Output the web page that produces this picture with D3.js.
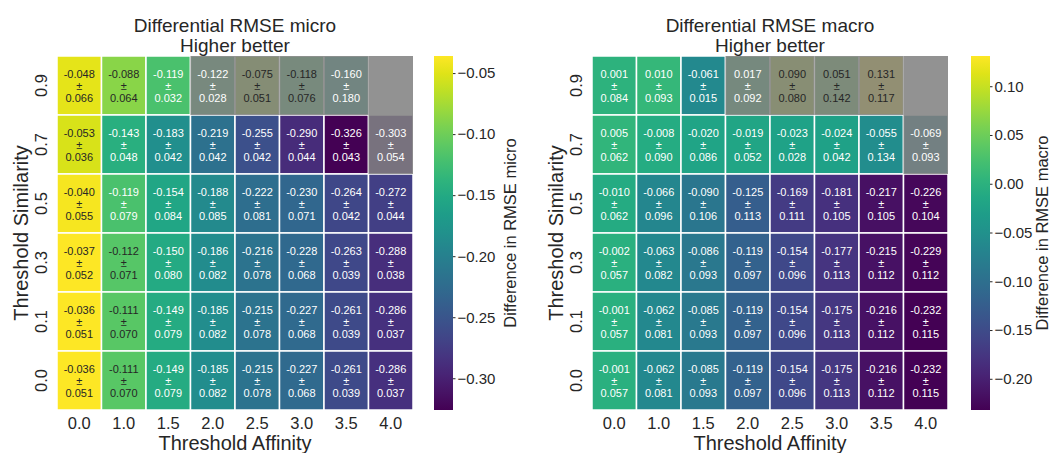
<!DOCTYPE html>
<html>
<head>
<meta charset="utf-8">
<script src="https://cdn.jsdelivr.net/npm/d3@7"></script>
<style>
  body { margin: 0; background: #fff; }
  svg text { font-family: "Liberation Sans", Arial, sans-serif; fill: #262626; }
</style>
</head>
<body>
<div id="vis"></div>
<script>
/*************** DATA ***************/
// rows top to bottom, columns left to right; null = no value
var affinity = ['0.0', '1.0', '1.5', '2.0', '2.5', '3.0', '3.5', '4.0'];
var similarity = ['0.9', '0.7', '0.5', '0.3', '0.1', '0.0'];

var microMean = [
  [-0.048, -0.088, -0.119, -0.122, -0.075, -0.118, -0.160, null],
  [-0.053, -0.143, -0.183, -0.219, -0.255, -0.290, -0.326, -0.303],
  [-0.040, -0.119, -0.154, -0.188, -0.222, -0.230, -0.264, -0.272],
  [-0.037, -0.112, -0.150, -0.186, -0.216, -0.228, -0.263, -0.288],
  [-0.036, -0.111, -0.149, -0.185, -0.215, -0.227, -0.261, -0.286],
  [-0.036, -0.111, -0.149, -0.185, -0.215, -0.227, -0.261, -0.286]
];
var microStd = [
  [0.066, 0.064, 0.032, 0.028, 0.051, 0.076, 0.180, null],
  [0.036, 0.048, 0.042, 0.042, 0.042, 0.044, 0.043, 0.054],
  [0.055, 0.079, 0.084, 0.085, 0.081, 0.071, 0.042, 0.044],
  [0.052, 0.071, 0.080, 0.082, 0.078, 0.068, 0.039, 0.038],
  [0.051, 0.070, 0.079, 0.082, 0.078, 0.068, 0.039, 0.037],
  [0.051, 0.070, 0.079, 0.082, 0.078, 0.068, 0.039, 0.037]
];
var macroMean = [
  [0.001, 0.010, -0.061, 0.017, 0.090, 0.051, 0.131, null],
  [0.005, -0.008, -0.020, -0.019, -0.023, -0.024, -0.055, -0.069],
  [-0.010, -0.066, -0.090, -0.125, -0.169, -0.181, -0.217, -0.226],
  [-0.002, -0.063, -0.086, -0.119, -0.154, -0.177, -0.215, -0.229],
  [-0.001, -0.062, -0.085, -0.119, -0.154, -0.175, -0.216, -0.232],
  [-0.001, -0.062, -0.085, -0.119, -0.154, -0.175, -0.216, -0.232]
];
var macroStd = [
  [0.084, 0.093, 0.015, 0.092, 0.080, 0.142, 0.117, null],
  [0.062, 0.090, 0.086, 0.052, 0.028, 0.042, 0.134, 0.093],
  [0.062, 0.096, 0.106, 0.113, 0.111, 0.105, 0.105, 0.104],
  [0.057, 0.082, 0.093, 0.097, 0.096, 0.113, 0.112, 0.112],
  [0.057, 0.081, 0.093, 0.097, 0.096, 0.113, 0.112, 0.115],
  [0.057, 0.081, 0.093, 0.097, 0.096, 0.113, 0.112, 0.115]
];
// greyed out cells [row, col]
var greyCells = [[0, 3], [0, 4], [0, 5], [0, 6], [0, 7], [1, 7]];

var microTicks = [-0.05, -0.10, -0.15, -0.20, -0.25, -0.30];
var macroTicks = [0.10, 0.05, 0.00, -0.05, -0.10, -0.15, -0.20];

/*************** DRAW ***************/
const width = 1052;
const height = 453;

var svg = d3.select('#vis').append('svg')
  .attr('width', width)
  .attr('height', height);

var defs = svg.append('defs');

// seaborn picks annotation colour from the luminance of the cell colour
function luminance(col) {
  var c = d3.rgb(col);
  var lin = [c.r, c.g, c.b].map(v => {
    v = v / 255;
    return v <= 0.03928 ? v / 12.92 : Math.pow((v + 0.055) / 1.055, 2.4);
  });
  return 0.2126 * lin[0] + 0.7152 * lin[1] + 0.0722 * lin[2];
}

function fmt(v) {
  return v.toFixed(3);
}

function heatmap(opts) {
  const left = opts.left, top = 56, w = 356, h = 354;

  var x = d3.scaleBand().domain(affinity).range([left, left + w]);
  var y = d3.scaleBand().domain(similarity).range([top, top + h]);

  var flat = opts.mean.flat().filter(v => v !== null);
  var vmin = d3.min(flat), vmax = d3.max(flat);
  var colour = d3.scaleSequential(d3.interpolateViridis).domain([vmin, vmax]);

  var cells = [];
  opts.mean.forEach((row, i) => row.forEach((v, j) => {
    cells.push({ row: similarity[i], col: affinity[j], mean: v, std: opts.std[i][j] });
  }));

  var g = svg.append('g');

  // cells with white grid lines
  g.selectAll('rect.cell')
    .data(cells.filter(d => d.mean !== null))
    .enter()
    .append('rect')
    .attr('class', 'cell')
    .attr('x', d => x(d.col))
    .attr('y', d => y(d.row))
    .attr('width', x.bandwidth())
    .attr('height', y.bandwidth())
    .attr('fill', d => colour(d.mean))
    .attr('stroke', '#fff')
    .attr('stroke-width', 1.5);

  // grey overlay
  g.selectAll('rect.grey')
    .data(greyCells)
    .enter()
    .append('rect')
    .attr('class', 'grey')
    .attr('x', d => x(affinity[d[1]]))
    .attr('y', d => y(similarity[d[0]]))
    .attr('width', x.bandwidth())
    .attr('height', y.bandwidth())
    .attr('fill', '#808080')
    .attr('fill-opacity', 0.86);

  // annotations
  var ann = g.selectAll('text.ann')
    .data(cells.filter(d => d.mean !== null))
    .enter()
    .append('text')
    .attr('class', 'ann')
    .attr('text-anchor', 'middle')
    .style('font-size', '11px')
    .style('fill', d => luminance(colour(d.mean)) > 0.408 ? '#262626' : '#ffffff');

  [d => fmt(d.mean), d => '±', d => fmt(d.std)].forEach((f, k) => {
    ann.append('tspan')
      .attr('x', d => x(d.col) + x.bandwidth() / 2)
      .attr('y', d => y(d.row) + y.bandwidth() / 2 + (k - 1) * 12 + 4)
      .text(f);
  });

  // tick labels
  g.selectAll('text.xtick')
    .data(affinity)
    .enter()
    .append('text')
    .attr('text-anchor', 'middle')
    .attr('x', d => x(d) + x.bandwidth() / 2)
    .attr('y', top + h + 19)
    .style('font-size', '16.5px')
    .text(d => d);

  g.selectAll('text.ytick')
    .data(similarity)
    .enter()
    .append('text')
    .attr('text-anchor', 'middle')
    .attr('transform', d => 'translate(' + (left - 10) + ',' + (y(d) + y.bandwidth() / 2) + ') rotate(-90)')
    .style('font-size', '16.5px')
    .text(d => d);

  // axis titles
  g.append('text')
    .attr('text-anchor', 'middle')
    .attr('x', left + w / 2)
    .attr('y', 450)
    .style('font-size', '20px')
    .text('Threshold Affinity');

  g.append('text')
    .attr('text-anchor', 'middle')
    .attr('transform', 'translate(' + (left - 29) + ',' + (top + h / 2) + ') rotate(-90)')
    .style('font-size', '20px')
    .text('Threshold Similarity');

  // title
  g.append('text')
    .attr('text-anchor', 'middle')
    .attr('x', left + w / 2)
    .attr('y', 32)
    .style('font-size', '19px')
    .text(opts.title);
  g.append('text')
    .attr('text-anchor', 'middle')
    .attr('x', left + w / 2)
    .attr('y', 51.5)
    .style('font-size', '19px')
    .text('Higher better');

  // colour bar
  const cbX = opts.cbLeft, cbW = 19;
  var cbScale = d3.scaleLinear().domain([vmin, vmax]).range([top + h, top]);

  var grad = defs.append('linearGradient')
    .attr('id', opts.id)
    .attr('x1', '0%').attr('y1', '100%')
    .attr('x2', '0%').attr('y2', '0%');
  grad.selectAll('stop')
    .data(d3.range(0, 1.0001, 0.05))
    .enter()
    .append('stop')
    .attr('offset', d => (d * 100) + '%')
    .attr('stop-color', d => d3.interpolateViridis(d));

  g.append('rect')
    .attr('x', cbX)
    .attr('y', top)
    .attr('width', cbW)
    .attr('height', h)
    .attr('fill', 'url(#' + opts.id + ')');

  var cbAxis = d3.axisRight(cbScale)
    .tickValues(opts.ticks)
    .tickSize(2.5)
    .tickPadding(2)
    .tickFormat(d3.format('.2f'));

  var axisG = g.append('g')
    .attr('transform', 'translate(' + (cbX + cbW) + ',0)')
    .call(cbAxis);
  axisG.select('.domain').remove();
  axisG.selectAll('line').attr('stroke', '#262626');
  axisG.selectAll('text')
    .style('font-size', '15px')
    .style('font-family', '"Liberation Sans", Arial, sans-serif')
    .attr('fill', '#262626');

  g.append('text')
    .attr('text-anchor', 'middle')
    .attr('transform', 'translate(' + opts.cbLabelX + ',' + (top + h / 2) + ') rotate(-90)')
    .style('font-size', '16.5px')
    .text(opts.cbLabel);
}

heatmap({
  id: 'gradMicro', left: 57, cbLeft: 434, cbLabelX: 516,
  mean: microMean, std: microStd, ticks: microTicks,
  title: 'Differential RMSE micro', cbLabel: 'Difference in RMSE micro'
});

heatmap({
  id: 'gradMacro', left: 592, cbLeft: 971, cbLabelX: 1047.5,
  mean: macroMean, std: macroStd, ticks: macroTicks,
  title: 'Differential RMSE macro', cbLabel: 'Difference in RMSE macro'
});
</script>
</body>
</html>
